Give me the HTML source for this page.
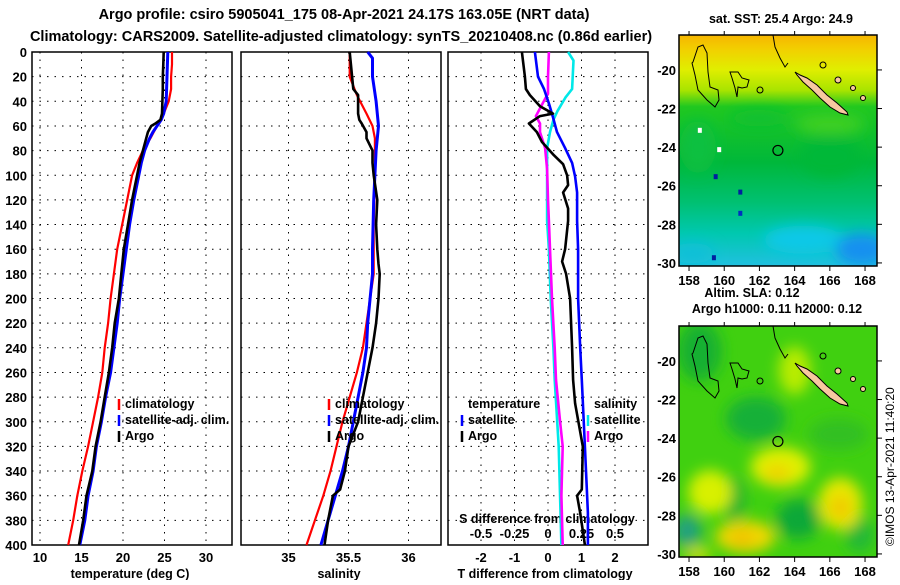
<!DOCTYPE html>
<html><head><meta charset="utf-8">
<style>
html,body{margin:0;padding:0;background:#fff;}
body{width:900px;height:580px;overflow:hidden;font-family:"Liberation Sans",sans-serif;}
svg text{font-family:"Liberation Sans",sans-serif;font-weight:bold;}
</style></head>
<body>
<svg id="fig" width="900" height="580" viewBox="0 0 900 580" xmlns="http://www.w3.org/2000/svg">
<text x="344" y="19" font-size="14.5" text-anchor="middle">Argo profile: csiro 5905041_175 08-Apr-2021 24.17S 163.05E (NRT data)</text>
<text x="341" y="41" font-size="14.5" text-anchor="middle">Climatology: CARS2009. Satellite-adjusted climatology: synTS_20210408.nc (0.86d earlier)</text>
<g id="panels"></g>
<g id="maps"></g>
<text x="781" y="23" font-size="12.5" text-anchor="middle">sat. SST: 25.4 Argo: 24.9</text>
<text x="752" y="297" font-size="12.5" text-anchor="middle">Altim. SLA: 0.12</text>
<text x="777" y="313" font-size="12.5" text-anchor="middle">Argo h1000: 0.11 h2000: 0.12</text>
<text transform="translate(894,546) rotate(-90)" font-size="12" style="font-weight:normal">©IMOS 13-Apr-2021 11:40:20</text>
</svg>
<script>
// ---- data ----
const depthT = [0,10,20,30,40,50,55,58,60,65,70,80,90,100,120,140,160,180,200,220,240,260,280,300,320,340,360,380,400];
const tempArgo = [24.9,24.85,24.8,24.8,24.75,24.7,24.5,23.9,23.4,23.0,22.8,22.4,22.0,21.7,21.1,20.6,20.1,19.8,19.5,19.0,18.7,18.3,17.8,17.3,16.7,16.3,15.6,15.2,14.7];
const tempClim = [25.9,25.9,25.8,25.8,25.5,24.9,24.6,24.3,24.1,23.7,23.3,22.4,21.7,21.1,20.5,19.9,19.3,18.9,18.5,18.2,17.8,17.5,17.0,16.4,15.8,15.1,14.5,14.0,13.4];
const tempSat = [25.4,25.35,25.3,25.25,25.2,24.9,24.6,24.3,24.1,23.6,23.2,22.6,22.2,21.9,21.3,20.8,20.4,20.0,19.6,19.3,18.9,18.5,17.9,17.4,16.8,16.4,15.8,15.4,14.8];

const depthSArgo = [0,10,20,30,35,50,55,58,65,70,80,90,100,120,140,160,172,180,200,220,240,260,280,300,320,340,355,360,380,400];
const salArgo = [35.51,35.52,35.53,35.54,35.58,35.58,35.59,35.61,35.65,35.65,35.70,35.70,35.71,35.74,35.73,35.74,35.75,35.76,35.75,35.73,35.70,35.66,35.62,35.58,35.50,35.47,35.43,35.37,35.33,35.30];
const depthSClim = [0,20,35,50,60,70,100,140,180,200,220,240,260,280,300,320,340,360,380,400];
const salClim = [35.51,35.51,35.57,35.65,35.70,35.72,35.72,35.71,35.71,35.68,35.65,35.62,35.57,35.51,35.45,35.40,35.35,35.29,35.22,35.15];
const depthSSat = [0,5,20,40,60,80,100,120,160,180,200,220,240,260,280,300,320,340,360,380,400];
const salSat = [35.66,35.70,35.70,35.73,35.75,35.73,35.72,35.71,35.70,35.70,35.68,35.66,35.65,35.62,35.58,35.54,35.50,35.45,35.39,35.33,35.27];

const depthDTArgo = [0,20,30,35,44,50,52,58,65,73,83,91,100,108,114,127,137,160,170,180,200,240,266,285,320,355,360,374,400];
const dTArgo = [-0.78,-0.69,-0.66,-0.54,-0.24,0.15,-0.24,-0.57,-0.33,-0.18,0.15,0.45,0.57,0.60,0.45,0.60,0.60,0.51,0.42,0.54,0.66,0.72,0.75,0.81,1.04,1.01,0.87,0.96,1.10];
const depthDTSat = [0,20,30,42,53,65,78,90,101,114,137,160,200,240,266,320,374,400];
const dTSat = [-0.39,-0.30,-0.12,0.03,0.15,0.27,0.51,0.72,0.81,0.87,0.87,0.90,0.90,0.96,1.01,1.10,1.19,1.19];
const depthDSArgo = [0,20,34,38,52,58,65,78,95,120,137,160,200,240,266,300,320,360,400];
const dSArgo = [0.007,0,0,-0.022,-0.09,-0.06,-0.06,-0.022,-0.007,0,0.007,0.015,0.03,0.05,0.06,0.09,0.11,0.10,0.11];
const depthDSSat = [0,7,30,37,48,55,65,78,110,137,160,200,240,266,320,400];
const dSSat = [0.15,0.19,0.18,0.13,0.07,0.04,0.015,-0.007,-0.007,-0.007,0.007,0.02,0.04,0.05,0.08,0.10];

const depthTicks = [0,20,40,60,80,100,120,140,160,180,200,220,240,260,280,300,320,340,360,380,400];
const tempTicks = [10,15,20,25,30];
const salTicks = [35,35.5,36];
const dTTicks = [-2,-1,0,1,2];
const dSTicks = [-0.5,-0.25,0,0.25,0.5];
const dSTickLabels = ["-0.5","-0.25","0","0.25","0.5"];

// ---- geometry ----
const NS='http://www.w3.org/2000/svg';
const TOP=52, BOT=545;
function yD(d){return TOP+(d/400)*(BOT-TOP);}
function xT(t){return 40+(t-10)*8.3;}
function xS(s){return 288.5+(s-35)*120;}
function xDT(v){return 548+v*33.5;}
function xDS(v){return 548+v*134;}
function mk(tag,attrs,parent){const e=document.createElementNS(NS,tag);for(const k in attrs)e.setAttribute(k,attrs[k]);parent.appendChild(e);return e;}
const P=document.getElementById('panels');

const panels=[{x0:32,x1:232},{x0:241,x1:441},{x0:448,x1:648}];
panels.forEach((p,i)=>{
  const r=mk('rect',{x:p.x0,y:TOP,width:p.x1-p.x0,height:BOT-TOP,fill:'none',stroke:'#000','stroke-width':1.5},P);
  
  
  depthTicks.forEach(d=>{
    if(d===0||d===400)return;
    const l=mk('line',{x1:p.x0,x2:p.x1,y1:yD(d),y2:yD(d),stroke:'#000','stroke-width':1,'stroke-dasharray':'1.5,6'},P);
    
    
  });
});
function vgrid(vals,fx){vals.forEach(v=>{const l=mk('line',{x1:fx(v),x2:fx(v),y1:TOP,y2:BOT,stroke:'#000','stroke-width':1,'stroke-dasharray':'1.5,6'},P);
  
  });}
vgrid(tempTicks,xT);vgrid(salTicks,xS);vgrid(dTTicks,xDT);

depthTicks.forEach(d=>{
  const t=mk('text',{x:27,y:yD(d)+5,'font-size':13,'text-anchor':'end'},P);t.textContent=d;
  
  
});
function xlabels(vals,fx){vals.forEach(v=>{const t=mk('text',{x:fx(v),y:562,'font-size':13,'text-anchor':'middle'},P);t.textContent=v;
  
  });}
xlabels(tempTicks,xT);xlabels(salTicks,xS);xlabels(dTTicks,xDT);
dSTicks.forEach((v,i)=>{const t=mk('text',{x:xDS(v),y:538,'font-size':13,'text-anchor':'middle'},P);t.textContent=dSTickLabels[i];
  
  });
[['temperature (deg C)',130,'x-axis-title-temperature'],['salinity',339,'x-axis-title-salinity'],['T difference from climatology',545,'x-axis-title-tdiff']].forEach(a=>{
  const t=mk('text',{x:a[1],y:578,'font-size':12.5,'text-anchor':'middle'},P);t.textContent=a[0];
  
  
});
{const t=mk('text',{x:547,y:523,'font-size':12.5,'text-anchor':'middle'},P);t.textContent='S difference from climatology';

}

function line(depths,vals,fx,color,w,name){
  const pts=depths.map((d,i)=>fx(vals[i]).toFixed(1)+','+yD(d).toFixed(1)).join(' ');
  const e=mk('polyline',{points:pts,fill:'none',stroke:color,'stroke-width':w,'stroke-linejoin':'round'},P);
  
  
}
line(depthT,tempClim,xT,'#ff0000',2.2,'temp-climatology-line');
line(depthT,tempSat,xT,'#0000ff',3,'temp-satellite-line');
line(depthT,tempArgo,xT,'#000',2.6,'temp-argo-line');
line(depthSClim,salClim,xS,'#ff0000',2.2,'sal-climatology-line');
line(depthSSat,salSat,xS,'#0000ff',3,'sal-satellite-line');
line(depthSArgo,salArgo,xS,'#000',2.6,'sal-argo-line');
line(depthDSSat,dSSat,xDS,'#00e8e8',2.6,'sdiff-satellite-line');
line(depthDSArgo,dSArgo,xDS,'#ff00ff',2.6,'sdiff-argo-line');
line(depthDTSat,dTSat,xDT,'#0000ff',2.6,'tdiff-satellite-line');
line(depthDTArgo,dTArgo,xDT,'#000',2.6,'tdiff-argo-line');

function legend(x,y,items,name){
  items.forEach((it,i)=>{
    const yy=y+i*16;
    if(it[1]){const m=mk('line',{x1:x,x2:x,y1:yy-9,y2:yy+2,stroke:it[1],'stroke-width':2.5},P);
      
      }
    const t=mk('text',{x:x+6,y:yy,'font-size':12.5},P);t.textContent=it[0];
    
    
  });
}
legend(119,408,[['climatology','#ff0000'],['satellite-adj. clim.','#0000ff'],['Argo','#000']],'legend-temp');
legend(329,408,[['climatology','#ff0000'],['satellite-adj. clim.','#0000ff'],['Argo','#000']],'legend-sal');
legend(462,408,[['temperature',null],['satellite','#0000ff'],['Argo','#000']],'legend-tdiff');
legend(588,408,[['salinity',null],['satellite','#00e8e8'],['Argo','#ff00ff']],'legend-sdiff');

// ---- maps ----
const M=document.getElementById('maps');
const latTicks=[-20,-22,-24,-26,-28,-30];
const lonTicks=[158,160,162,164,166,168];
const defs=mk('defs',{},M);
const f=mk('filter',{id:'blur',x:'-50%',y:'-50%',width:'200%',height:'200%'},defs);
mk('feGaussianBlur',{stdDeviation:7},f);
const g1=mk('linearGradient',{id:'sstgrad',x1:0,y1:0,x2:0,y2:1},defs);
[[0,'#f7b500'],[0.06,'#f2cf00'],[0.15,'#e0ee00'],[0.24,'#a8e400'],[0.31,'#20c820'],[0.55,'#00b83a'],[0.72,'#00c070'],[0.86,'#00c8b0'],[1,'#20c0e0']].forEach(s=>mk('stop',{offset:s[0],'stop-color':s[1]},g1));
function mapFrame(top,kind){
  const W=198,H=231,X=679;
  const g=mk('g',{transform:'translate('+X+','+top+')'},M);
  
  
  const cp=mk('clipPath',{id:'clip'+kind},defs);mk('rect',{x:0,y:0,width:W,height:H},cp);
  const inner=mk('g',{'clip-path':'url(#clip'+kind+')'},g);
  const lx=lon=>(lon-157.43)*17.6, ly=lat=>(-18.19-lat)*19.3;
  if(kind==='sst'){
    mk('rect',{x:0,y:0,width:W,height:H,fill:'url(#sstgrad)'},inner);
    const b=mk('g',{filter:'url(#blur)'},inner);
    [[166,-24.5,30,20,'#00b838'],[164.5,-28.8,40,14,'#10c8e8'],[167.8,-29.3,26,16,'#1890f0'],[158.2,-29.5,22,10,'#10c0d8'],[158.5,-24,18,26,'#10c040'],[166,-22.8,35,10,'#40d020'],[162,-22.5,30,8,'#10c030']].forEach(e=>
      mk('ellipse',{cx:lx(e[0]),cy:ly(e[1]),rx:e[2],ry:e[3],fill:e[4]},b));
    [[158.5,-23,'#ffffff'],[159.6,-24,'#ffffff'],[159.4,-25.4,'#0020a0'],[160.8,-26.2,'#0020a0'],[160.8,-27.3,'#0030c0'],[159.3,-29.6,'#0020a0']].forEach(c=>
      mk('rect',{x:lx(c[0]),y:ly(c[1]),width:4,height:5,fill:c[2]},inner));
  } else {
    mk('rect',{x:0,y:0,width:W,height:H,fill:'#40d010'},inner);
    const b=mk('g',{filter:'url(#blur)'},inner);
    [[158.6,-19.5,22,30,'#18b030'],[161.8,-23,30,22,'#18b038'],[164.2,-28.2,22,20,'#10a838'],[160.6,-27.2,10,22,'#20b030'],[167.7,-29,14,18,'#20b838'],[166.5,-23.8,30,16,'#30c020'],
     [163.2,-25.5,30,20,'#e0f000'],[159.2,-26.8,22,22,'#d8f000'],[166.6,-27.4,22,26,'#e8e800'],[161.2,-29.1,30,16,'#f0d800'],[163,-25.8,14,8,'#f0d000'],[166.6,-27.6,10,12,'#f0c800'],[161,-29.2,12,8,'#f0c000'],
     [164,-20.5,16,24,'#b8ec00'],[157.9,-28.8,14,16,'#20a080'],[158.5,-30,14,6,'#e8e000']].forEach(e=>
      mk('ellipse',{cx:lx(e[0]),cy:ly(e[1]),rx:e[2],ry:e[3],fill:e[4]},b));
  }
  const pathAttrs={fill:'none',stroke:'#000','stroke-width':1};
  const ches='14,27 19,12 24,10 28,18 29,37 31,52 39,55 40,65 36,72 28,65 19,55 16,40 13,28';
  const reef='51,37 59,37 63,43 70,45 68,52 63,53 59,52 58,62 56,53 53,43 51,37';
  const nline='94,0 96,12 101,23 106,32 109,28';
  const nc='116,37 121,40 128,43 138,50 148,60 158,68 168,77 169,80 161,78 151,72 141,63 133,55 124,47 118,40';
  [ches,reef].forEach(p=>{const e=mk('polygon',Object.assign({points:p},pathAttrs),inner);
    
    });
  {const e=mk('polyline',Object.assign({points:nline},pathAttrs),inner);
    
    }
  {const e=mk('polygon',{points:nc,fill:'#f8c8a0',stroke:'#000','stroke-width':1},inner);
    
    }
  [[81,55,3],[144,30,3],[159,45,3],[174,53,2.5],[184,63,2.5]].forEach(c=>{
    const e=mk('circle',{cx:c[0],cy:c[1],r:c[2],fill:c[0]>150?'#f8c8a0':'none',stroke:'#000','stroke-width':1},inner);
    
    });
  {const e=mk('circle',{cx:lx(163.05),cy:ly(-24.17),r:5,fill:'none',stroke:'#000','stroke-width':1.2},inner);
    
    }
  const fr=mk('rect',{x:0,y:0,width:W,height:H,fill:'none',stroke:'#000','stroke-width':1.5},g);
  
  
  latTicks.forEach(lat=>{
    const y=ly(lat);
    mk('line',{x1:W,x2:W+5,y1:y,y2:y,stroke:'#000'},g);
    const t=mk('text',{x:-3,y:y+5,'font-size':13,'text-anchor':'end'},g);t.textContent=lat;
    
    
  });
  lonTicks.forEach(lon=>{
    const x=lx(lon);
    mk('line',{x1:x,x2:x,y1:H,y2:H+5,stroke:'#000'},g);
    mk('line',{x1:x,x2:x,y1:0,y2:-4,stroke:'#000'},g);
    const t=mk('text',{x:x,y:H+19,'font-size':13,'text-anchor':'middle'},g);t.textContent=lon;
    
    
  });
}
mapFrame(35,'sst');
mapFrame(326,'sla');
</script>
</body></html>
